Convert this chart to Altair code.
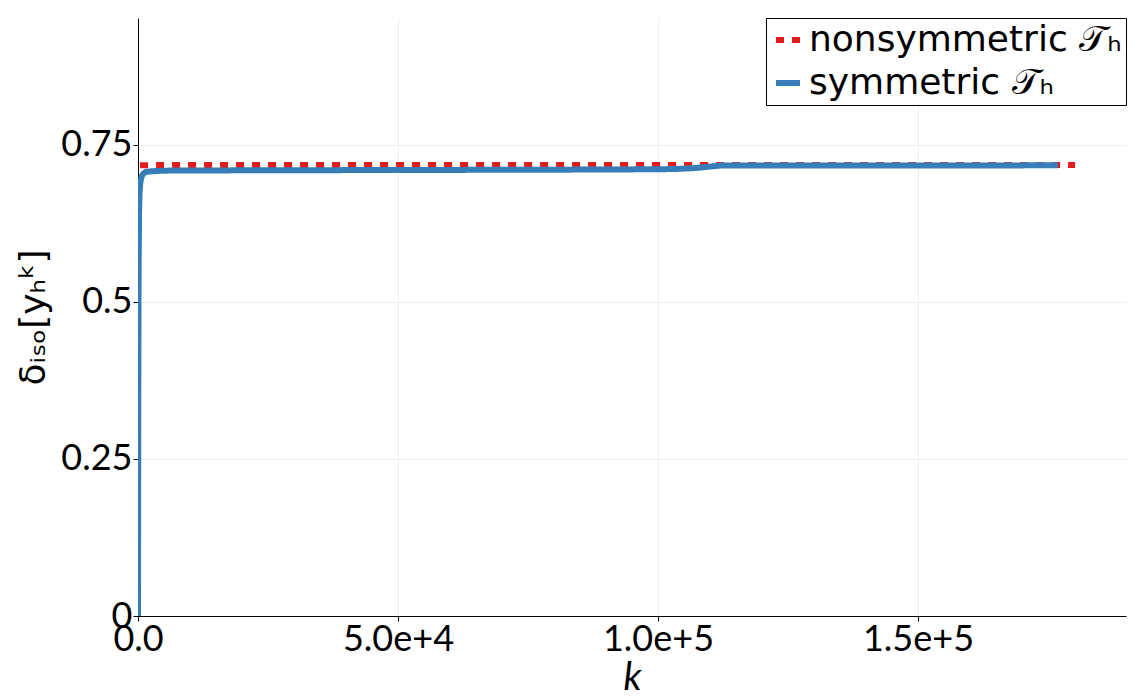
import altair as alt
import pandas as pd

# symmetric T_h series
sym_k = [0, 60, 120, 200, 300, 450, 700, 1000, 1500, 2500, 5000, 20000, 50000, 80000, 95000,
         103000, 107000, 110000, 112000, 115000, 140000, 176900]
sym_v = [0.0, 0.35, 0.55, 0.64, 0.675, 0.69, 0.700, 0.704, 0.707, 0.708, 0.709, 0.7095, 0.710,
         0.7105, 0.711, 0.7115, 0.713, 0.7155, 0.717, 0.7172, 0.7173, 0.7174]

# nonsymmetric T_h series
non_k = [400, 5000, 50000, 100000, 150000, 180200]
non_v = [0.7175, 0.718, 0.718, 0.718, 0.718, 0.718]

series_names = ["nonsymmetric 𝒯ₕ", "symmetric 𝒯ₕ"]
series_colors = ["#e41a1c", "#377eb8"]

y_ticks = [0, 0.25, 0.5, 0.75]
y_tick_labels = ["0", "0.25", "0.5", "0.75"]
x_ticks = [0, 50000, 100000, 150000]
x_tick_labels = ["0.0", "5.0e+4", "1.0e+5", "1.5e+5"]

df = pd.concat([
    pd.DataFrame({"k": non_k, "v": non_v, "series": series_names[0], "order": 0}),
    pd.DataFrame({"k": sym_k, "v": sym_v, "series": series_names[1], "order": 1}),
])

def label_expr(vals, labels):
    parts = " : ".join(f"datum.value == {v} ? '{l}'" for v, l in zip(vals, labels))
    return parts + " : ''"

tick_font = "Lato"
text_font = "DejaVu Sans"
legend = alt.Legend(
    title=None, orient="top-right", offset=0, strokeColor="black", fillColor="white",
    padding=4, labelFontSize=36, labelFont=text_font, labelColor="black",
    symbolType="stroke", symbolStrokeWidth=6, symbolSize=576, rowPadding=7, labelOffset=3,
    labelLimit=600,
)

chart = alt.Chart(df).mark_line(strokeWidth=6, clip=True).encode(
    x=alt.X("k:Q", scale=alt.Scale(domain=[0, 190000], nice=False),
            axis=alt.Axis(values=x_ticks, title="k", labelExpr=label_expr(x_ticks, x_tick_labels))),
    y=alt.Y("v:Q", scale=alt.Scale(domain=[0, 0.952], nice=False),
            axis=alt.Axis(values=y_ticks, title="δᵢₛₒ[yₕᵏ]", labelExpr=label_expr(y_ticks, y_tick_labels))),
    color=alt.Color("series:N", scale=alt.Scale(domain=series_names, range=series_colors), legend=legend),
    strokeDash=alt.StrokeDash("series:N", scale=alt.Scale(domain=series_names, range=[[8, 8], [1, 0]]),
                              legend=legend),
    order=alt.Order("order:Q"),
    detail="series:N",
).properties(
    width=988, height=598,
    padding={"left": 130, "top": 10, "right": 12, "bottom": 80},
    autosize=alt.AutoSizeParams(type="none"),
).configure_view(stroke=None).configure_axis(
    domainColor="black", domainWidth=1, tickColor="black", tickSize=5, labelPadding=1,
    labelFont=tick_font, labelFontSize=36, labelColor="black", labelFlush=False,
    gridColor="#eeeeee", gridWidth=1,
    titleFont=tick_font, titleColor="black", titleFontWeight="normal",
).configure_axisX(
    titleFontSize=38, titleFontStyle="italic", titlePadding=2,
).configure_axisY(
    titleFont=text_font, titleFontSize=36, titlePadding=8,
)

chart.save("out.html", embed_options={"renderer": "svg", "actions": False})
